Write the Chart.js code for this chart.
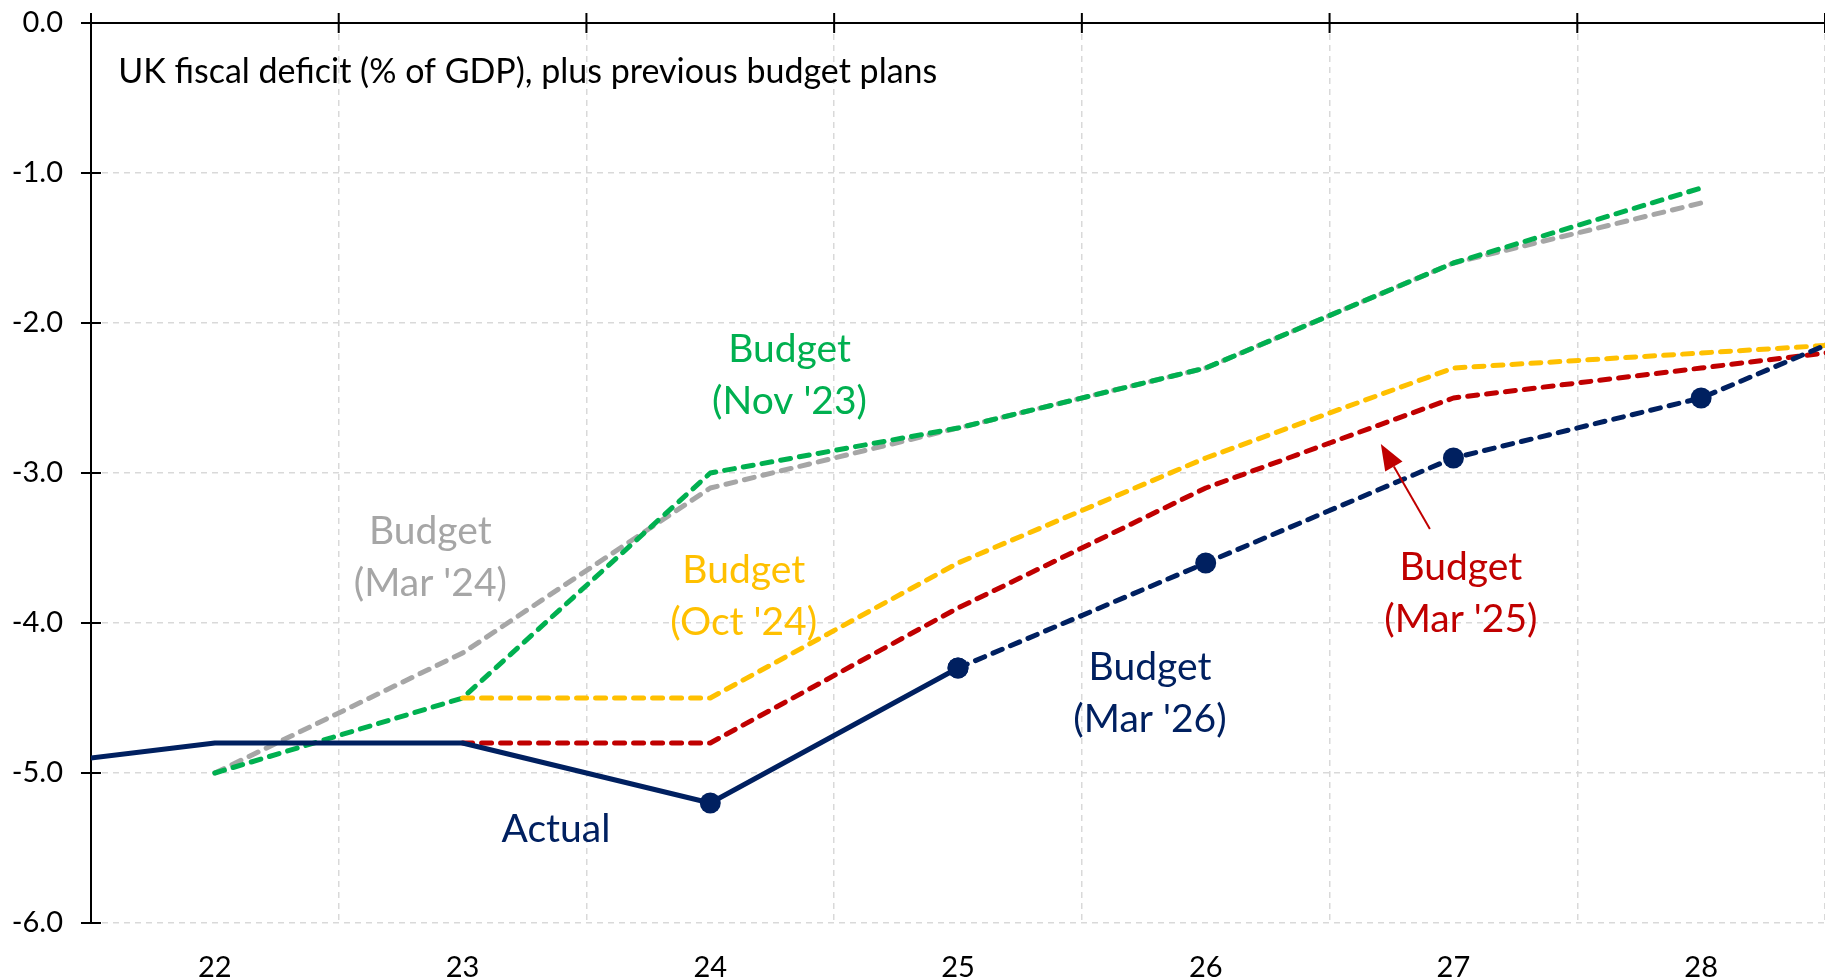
<!DOCTYPE html>
<html lang="en">
  <head>
    <meta charset="utf-8">
    <title>UK fiscal deficit</title>
    <style>
      html, body { margin: 0; padding: 0; background: #fff; }
      #deficit-chart { display: block; }
    </style>
  </head>
  <body>
    <canvas id="deficit-chart" width="1825" height="979"></canvas>

    <script src="https://cdn.jsdelivr.net/npm/chart.js@4.4.1/dist/chart.umd.min.js"></script>
    <script>
    // fiscal years (22 = 2022-23 ...); 21 and 29 only feed the ends that run off the plot
    const years  = [21, 22, 23, 24, 25, 26, 27, 28, 29];
    const actual = [-5.0, -4.8, -4.8, -5.2, -4.3, null, null, null, null];
    const mar26  = [null, null, null, null, -4.3, -3.6, -2.9, -2.5, -1.8];
    const mar25  = [null, null, -4.8, -4.8, -3.9, -3.1, -2.5, -2.3, -2.1];
    const oct24  = [null, null, -4.5, -4.5, -3.6, -2.9, -2.3, -2.2, -2.1];
    const nov23  = [null, -5.0, -4.5, -3.0, -2.7, -2.3, -1.6, -1.1, null];
    const mar24  = [null, -5.0, -4.2, -3.1, -2.7, -2.3, -1.6, -1.2, null];
    const markerYears = [24, 25, 26, 27, 28];

    const xLabels = [22, 23, 24, 25, 26, 27, 28];
    const yTicks  = [0, -1, -2, -3, -4, -5, -6];

    const NAVY = '#002060', GREEN = '#00B050', YELLOW = '#FFC000', RED = '#C00000', GREY = '#A6A6A6';
    const GRID = '#D9D9D9';
    const FONT = 'Lato';

    // text placed in data units: x = year, y = % of GDP of the first baseline
    const notes = [
      { lines: ['UK fiscal deficit (% of GDP), plus previous budget plans'], x: 21.61, y: -0.40, color: '#000', size: 34, align: 'left' },
      { lines: ['Budget', "(Nov '23)"], x: 24.32, y: -2.26, color: GREEN },
      { lines: ['Budget', "(Mar '24)"], x: 22.87, y: -3.47, color: GREY },
      { lines: ['Budget', "(Oct '24)"], x: 24.135, y: -3.73, color: YELLOW },
      { lines: ['Budget', "(Mar '26)"], x: 25.775, y: -4.38, color: NAVY },
      { lines: ['Budget', "(Mar '25)"], x: 27.03, y: -3.71, color: RED },
      { lines: ['Actual'], x: 23.377, y: -5.46, color: NAVY }
    ];
    const arrow = { from: [26.905, -3.373], to: [26.707, -2.807], color: RED };

    function points(values) {
      return years.map((yr, i) => ({ x: yr, y: values[i] })).filter(p => p.y !== null);
    }

    function line(label, values, color, dashed) {
      return {
        label: label,
        data: points(values),
        borderColor: color,
        backgroundColor: color,
        borderWidth: 5,
        borderDash: dashed ? [10, 9] : [],
        borderCapStyle: dashed ? 'round' : 'butt',
        borderJoinStyle: 'round',
        tension: 0,
        clip: 0,
        pointRadius: c => (color === NAVY && markerYears.includes(c.raw.x)) ? 10.5 : 0,
        pointHoverRadius: 0,
        pointBorderWidth: 0
      };
    }

    const boundaries = [xLabels[0] - 0.5].concat(xLabels.map(v => v + 0.5));

    function noPadding(s) {
      s.paddingTop = 0;
      s.paddingBottom = 0;
      s.paddingLeft = 0;
      s.paddingRight = 0;
    }

    // black axis lines at the top and left, ticks crossing them
    const axes = {
      id: 'axes',
      beforeDatasetsDraw(chart) {
        const { ctx, chartArea: a, scales: { x, y } } = chart;
        const top = y.getPixelForValue(0);
        ctx.save();
        ctx.strokeStyle = '#000';
        ctx.lineWidth = 2;
        ctx.beginPath();
        ctx.moveTo(a.left, top);
        ctx.lineTo(a.right, top);
        ctx.moveTo(a.left, a.top - 10);
        ctx.lineTo(a.left, a.bottom);
        yTicks.forEach(v => {
          const py = y.getPixelForValue(v);
          ctx.moveTo(a.left - 10, py);
          ctx.lineTo(a.left + 10, py);
        });
        boundaries.forEach(v => {
          const px = x.getPixelForValue(v);
          ctx.moveTo(px, top - 10);
          ctx.lineTo(px, top + 10);
        });
        ctx.stroke();
        ctx.restore();
      },
      afterDatasetsDraw(chart) {
        const { ctx, scales: { x, y } } = chart;
        ctx.save();
        notes.forEach(n => {
          ctx.font = (n.size || 39) + 'px ' + FONT;
          ctx.fillStyle = n.color;
          ctx.textAlign = n.align || 'center';
          ctx.textBaseline = 'alphabetic';
          const px = x.getPixelForValue(n.x);
          const py = y.getPixelForValue(n.y);
          n.lines.forEach((t, i) => ctx.fillText(t, px, py + i * 52));
        });

        const x0 = x.getPixelForValue(arrow.from[0]), y0 = y.getPixelForValue(arrow.from[1]);
        const x1 = x.getPixelForValue(arrow.to[0]),   y1 = y.getPixelForValue(arrow.to[1]);
        const ang = Math.atan2(y1 - y0, x1 - x0);
        const head = 26, half = 10;
        ctx.strokeStyle = arrow.color;
        ctx.fillStyle = arrow.color;
        ctx.lineWidth = 2;
        ctx.beginPath();
        ctx.moveTo(x0, y0);
        ctx.lineTo(x1 - head * Math.cos(ang), y1 - head * Math.sin(ang));
        ctx.stroke();
        ctx.beginPath();
        ctx.moveTo(x1, y1);
        ctx.lineTo(x1 - head * Math.cos(ang) - half * Math.sin(ang), y1 - head * Math.sin(ang) + half * Math.cos(ang));
        ctx.lineTo(x1 - head * Math.cos(ang) + half * Math.sin(ang), y1 - head * Math.sin(ang) - half * Math.cos(ang));
        ctx.closePath();
        ctx.fill();
        ctx.restore();
      }
    };

    Chart.defaults.font.family = FONT;
    Chart.defaults.color = '#000';

    new Chart(document.getElementById('deficit-chart'), {
      type: 'line',
      data: {
        datasets: [
          line('Actual', actual, NAVY, false),
          line("Budget (Mar '26)", mar26, NAVY, true),
          line("Budget (Mar '25)", mar25, RED, true),
          line("Budget (Oct '24)", oct24, YELLOW, true),
          line("Budget (Nov '23)", nov23, GREEN, true),
          line("Budget (Mar '24)", mar24, GREY, true)
        ]
      },
      options: {
        responsive: false,
        animation: false,
        events: [],
        layout: { autoPadding: false, padding: { top: 23, right: 0, left: 0, bottom: 0 } },
        plugins: { legend: { display: false }, tooltip: { enabled: false } },
        scales: {
          x: {
            type: 'linear',
            min: boundaries[0],
            max: boundaries[boundaries.length - 1],
            afterBuildTicks: s => {
              s.ticks = boundaries.concat(xLabels).sort((a, b) => a - b).map(v => ({ value: v }));
            },
            afterFit: s => { s.height = 56; noPadding(s); },
            border: { display: false, dash: [6, 5] },
            grid: {
              drawTicks: false,
              lineWidth: 1.5,
              color: c => (Number.isInteger(c.tick.value) || c.tick.value === boundaries[0]) ? 'rgba(0,0,0,0)' : GRID
            },
            ticks: {
              autoSkip: false,
              maxRotation: 0,
              padding: 27,
              font: { size: 29 },
              callback: v => Number.isInteger(v) ? String(v) : ''
            }
          },
          y: {
            min: yTicks[yTicks.length - 1],
            max: yTicks[0],
            afterBuildTicks: s => { s.ticks = yTicks.slice().reverse().map(v => ({ value: v })); },
            afterFit: s => { s.width = 91; noPadding(s); },
            border: { display: false, dash: [6, 5] },
            grid: {
              drawTicks: false,
              lineWidth: 1.5,
              color: c => c.tick.value === 0 ? 'rgba(0,0,0,0)' : GRID
            },
            ticks: {
              padding: 28,
              font: { size: 29 },
              callback: v => v.toFixed(1)
            }
          }
        }
      },
      plugins: [axes]
    });
    </script>
  </body>
</html>
